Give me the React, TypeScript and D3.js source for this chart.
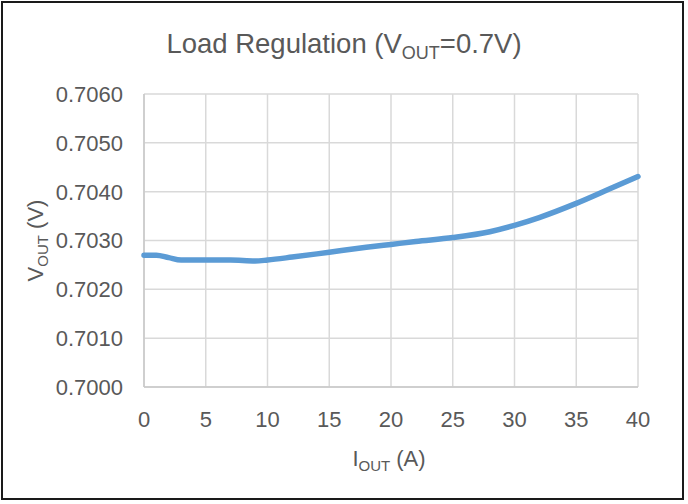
import * as d3 from "d3";

const currents = [0, 1, 2, 3, 5, 7, 9, 10, 12, 15, 18, 20, 22, 25, 28, 30, 32, 35, 38, 40];
const vout = [
  0.7027, 0.7027, 0.70265, 0.7026, 0.7026, 0.7026, 0.70258, 0.7026, 0.70266, 0.70276,
  0.70286, 0.70292, 0.70298, 0.70306, 0.70318, 0.70331, 0.70347, 0.70376, 0.70409, 0.70431,
];
const xTicks = [0, 5, 10, 15, 20, 25, 30, 35, 40];
const yTicks = [0.7, 0.701, 0.702, 0.703, 0.704, 0.705, 0.706];

const width = 688;
const height = 504;
const marginLeft = 144;
const marginRight = 50;
const marginTop = 94;
const marginBottom = 117;
const textColor = "#595959";
const font = "'Liberation Sans', Arial, sans-serif";

export default function App() {
  const x = d3.scaleLinear([0, 40], [marginLeft, width - marginRight]);
  const y = d3.scaleLinear([0.7, 0.706], [height - marginBottom, marginTop]);
  const line = d3
    .line<number>((d, i) => x(currents[i]), (d) => y(d))
    .curve(d3.curveMonotoneX);

  return (
    <svg
      width={width}
      height={height}
      style={{ position: "absolute", left: 0, top: 0, background: "#fff" }}
      fontFamily={font}
    >
      <rect x={2} y={2} width={681} height={497} fill="#fff" stroke="#1a1a1a" strokeWidth={2} />
      <text x={344} y={53} textAnchor="middle" fontSize={27.5} fill={textColor}>
        Load Regulation (V
        <tspan fontSize={18} dy={6}>OUT</tspan>
        <tspan dy={-6}>=0.7V)</tspan>
      </text>
      <g stroke="#d9d9d9" strokeWidth={1.5}>
        {yTicks.map((t) => (
          <line key={t} x1={x(0)} x2={x(40)} y1={y(t)} y2={y(t)} />
        ))}
        {xTicks.map((t) => (
          <line key={t} x1={x(t)} x2={x(t)} y1={y(0.7)} y2={y(0.706)} />
        ))}
      </g>
      <line x1={x(0)} x2={x(40)} y1={y(0.7)} y2={y(0.7)} stroke="#c8c8c8" strokeWidth={1.5} />
      <line x1={x(0)} x2={x(0)} y1={y(0.7)} y2={y(0.706)} stroke="#c8c8c8" strokeWidth={1.5} />
      <g fontSize={22} fill={textColor}>
        {yTicks.map((t) => (
          <text key={t} x={123} y={y(t)} dy="0.36em" textAnchor="end">
            {d3.format(".4f")(t)}
          </text>
        ))}
        {xTicks.map((t) => (
          <text key={t} x={x(t)} y={427} textAnchor="middle">
            {t}
          </text>
        ))}
      </g>
      <path
        d={line(vout) ?? ""}
        fill="none"
        stroke="#5b9bd5"
        strokeWidth={5.5}
        strokeLinecap="round"
        strokeLinejoin="round"
      />
      <text x={389} y={466} textAnchor="middle" fontSize={22} fill={textColor}>
        I<tspan fontSize={15} dy={5}>OUT</tspan>
        <tspan dy={-5}> (A)</tspan>
      </text>
      <text
        transform={`translate(43,${(marginTop + height - marginBottom) / 2}) rotate(-90)`}
        textAnchor="middle"
        fontSize={22}
        fill={textColor}
      >
        V<tspan fontSize={15} dy={5}>OUT</tspan>
        <tspan dy={-5}> (V)</tspan>
      </text>
    </svg>
  );
}
